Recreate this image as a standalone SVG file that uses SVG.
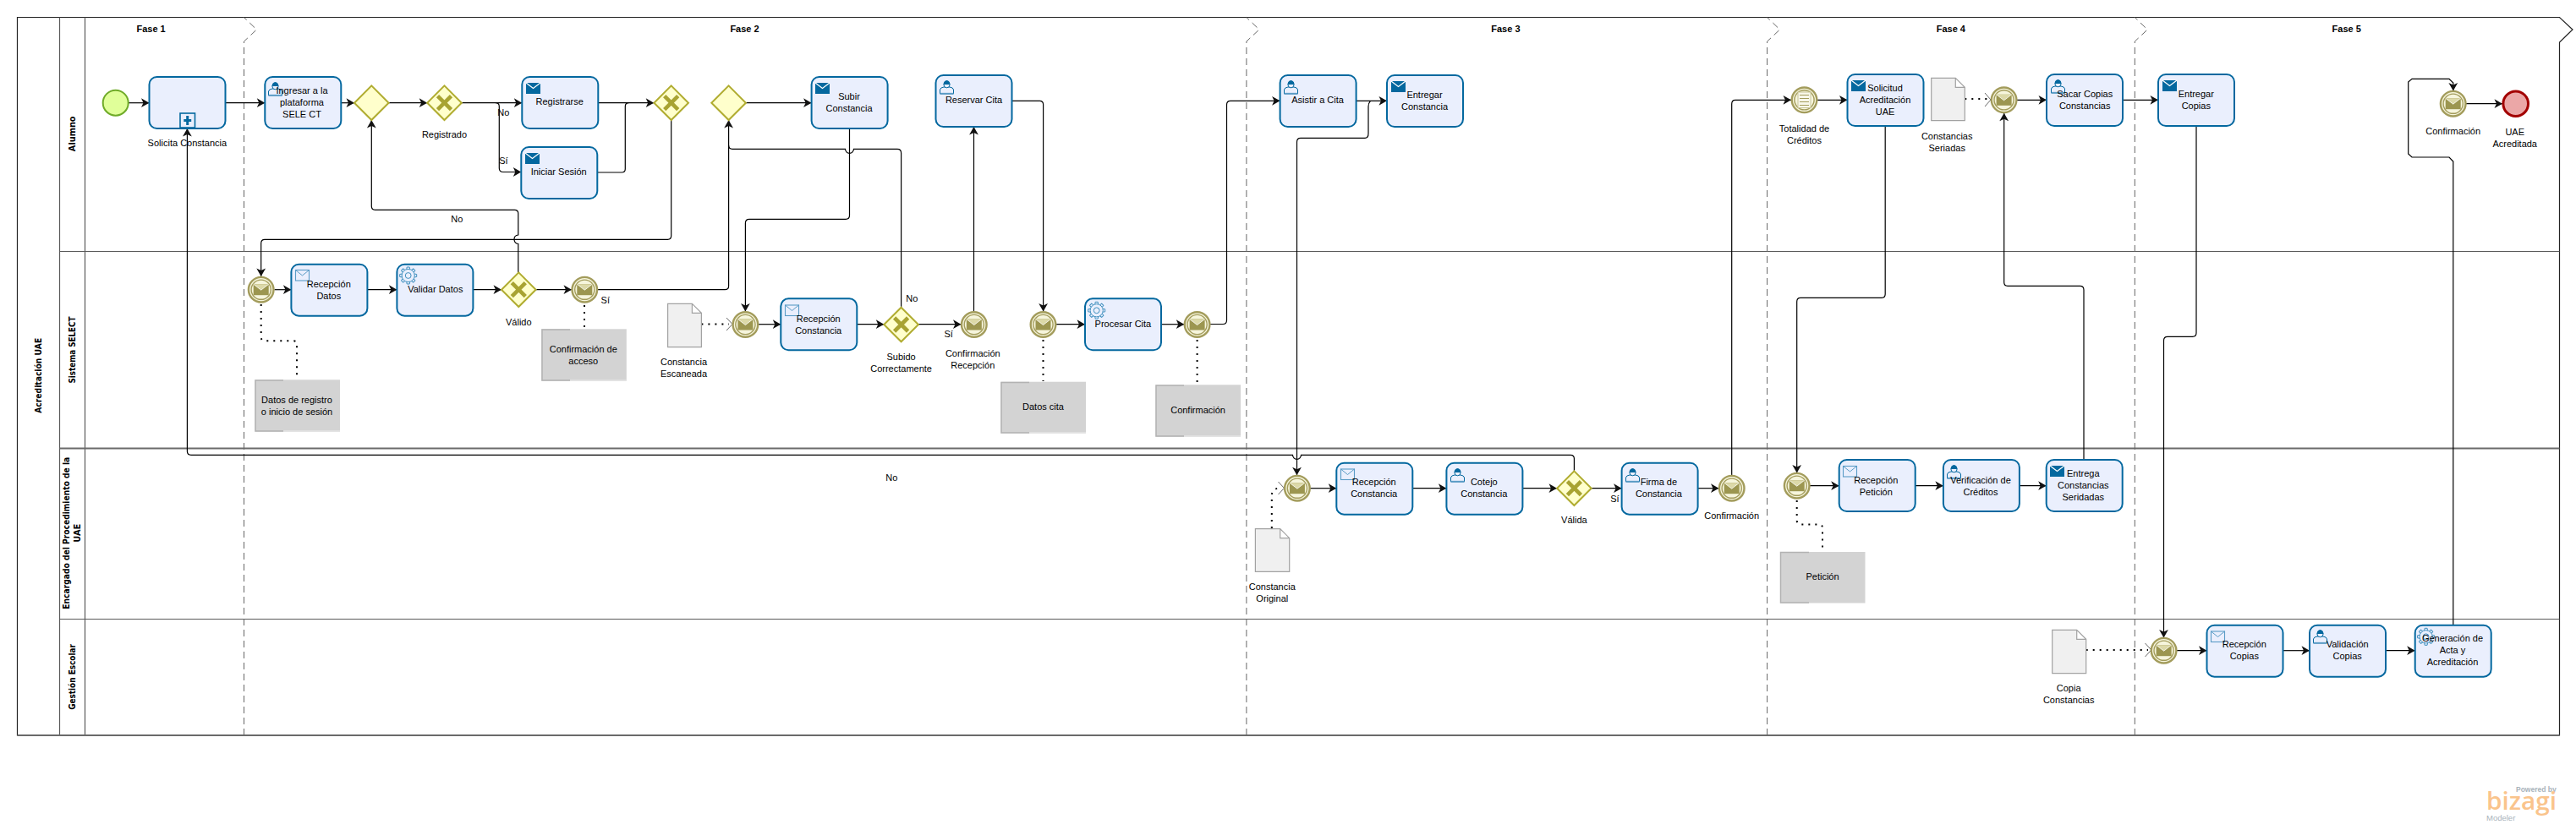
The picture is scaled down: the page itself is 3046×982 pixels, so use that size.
<svg xmlns="http://www.w3.org/2000/svg" xmlns:xlink="http://www.w3.org/1999/xlink" width="3046" height="982" viewBox="0 0 3046 982">
<style>
text{font-family:"Liberation Sans",Arial,sans-serif;font-size:11px;fill:#000;text-anchor:middle}
.ph{font-weight:700}
.ln{font-family:"DejaVu Sans",Verdana,sans-serif;font-size:10px;font-weight:700}
.lane{fill:none;stroke:#5a5a5a;stroke-width:1.2}
.pool{fill:#fff;stroke:#222;stroke-width:1.2}
.sep{fill:none;stroke:#666;stroke-width:1;stroke-dasharray:8 5}
.task{fill:#eaeffd;stroke:#04689f;stroke-width:2}
.flow{fill:none;stroke:#000;stroke-width:1.2}
.arr{marker-end:url(#ah)}
.dot{fill:none;stroke:#000;stroke-width:2;stroke-dasharray:2 6}
.assoc{fill:none;stroke:#444;stroke-width:.8}
.gw{fill:#ffffcc;stroke:#b0ac30;stroke-width:2}
.x{fill:none;stroke:#a8a332;stroke-width:4.6}
.doc{fill:#f0f0f0;stroke:#a2a2a2;stroke-width:1.2}
.data{fill:#d3d3d3}
.ds{fill:none;stroke:#b2b2b2;stroke-width:1.5}
.dl{fill:none;stroke:#e4e4e4;stroke-width:1.5}
</style>
<defs>
<marker id="ah" markerUnits="userSpaceOnUse" markerWidth="12" markerHeight="12" refX="10" refY="6" orient="auto"><path d="M0.5,0.6 L10,6 L0.5,11.4 L3,6 Z" fill="#111"/></marker>
<g id="mailF"><rect width="17" height="13" fill="#04689f"/><path d="M0,0 L8.5,6.5 L17,0" fill="none" stroke="#fff" stroke-width="1.2"/></g>
<g id="mailH"><rect x=".5" y=".5" width="16" height="12.5" fill="#eaeffd" stroke="#5a9cc6" stroke-width="1.1"/><path d="M.5,.5 L8.5,7 L16.5,.5" fill="none" stroke="#5a9cc6" stroke-width="1"/></g>
<g id="user" fill="none" stroke="#04689f" stroke-width="1"><path d="M.5,16 V11 Q1,8.5 5,8 H12 Q16,8.5 16.5,11 V16 Z" fill="#eaeffd"/><ellipse cx="8.5" cy="5" rx="3.6" ry="3.8" fill="#eaeffd"/><path d="M5,4.5 Q5.5,.5 8.5,.5 Q11.5,.5 12,4.5 Z" fill="#04689f"/><path d="M.5,15.6 H16.5" stroke-width="1.5" stroke="#5a9cc6"/></g>
<g id="tooth"><path d="M-1.9,-7.6 L-1.5,-10 H1.5 L1.9,-7.6" fill="none" stroke="#3f8fbe" stroke-width="1"/></g>
<g id="gear"><circle r="7.6" fill="#eaeffd" stroke="#3f8fbe" stroke-width="1"/><circle r="3.4" fill="none" stroke="#3f8fbe" stroke-width="1"/>
<use xlink:href="#tooth"/><use xlink:href="#tooth" transform="rotate(45)"/><use xlink:href="#tooth" transform="rotate(90)"/><use xlink:href="#tooth" transform="rotate(135)"/><use xlink:href="#tooth" transform="rotate(180)"/><use xlink:href="#tooth" transform="rotate(225)"/><use xlink:href="#tooth" transform="rotate(270)"/><use xlink:href="#tooth" transform="rotate(315)"/></g>
<g id="msg"><circle r="14.8" fill="#f6f5dc" stroke="#a39c5c" stroke-width="2.4"/><circle r="11.6" fill="#f6f5dc" stroke="#a39c5c" stroke-width="1.4"/><rect x="-9" y="-6.5" width="18" height="13" fill="#9c9650"/><path d="M-9,-6.5 L0,.5 L9,-6.5 Z" fill="#dcd9a8"/><path d="M-9,-6.5 L0,.5 L9,-6.5" fill="none" stroke="#fff" stroke-width=".8"/></g>
<g id="gate"><path class="gw" d="M0,-20.3 L20.3,0 L0,20.3 L-20.3,0 Z"/></g>
<g id="gatex"><use xlink:href="#gate"/><path class="x" d="M-8,-8 L8,8 M8,-8 L-8,8"/></g>
</defs>
<rect width="3046" height="982" fill="#fff"/>

<g id="pool">
<path class="pool" d="M20.5,20.5 H3026.5 L3042,35 L3026.5,50 V870 H20.5 Z"/>
<path class="lane" d="M70.5,20.5 V870 M100.5,20.5 V870 M70.5,297.5 H3026.5 M70.5,732.5 H3026.5"/>
<path d="M70.5,530.5 H3026.5" fill="none" stroke="#6a6a6a" stroke-width="1.8"/>
<path d="M20.5,870 H3026.5" fill="none" stroke="#6a6a6a" stroke-width="2"/>
<path class="sep" d="M288.5,870 V49 L303.5,35 L288.5,20.5"/>
<path class="sep" d="M1473.9,870 V49 L1488.9,35 L1473.9,20.5"/>
<path class="sep" d="M2089.6,870 V49 L2104.6,35 L2089.6,20.5"/>
<path class="sep" d="M2524.3,870 V49 L2539.3,35 L2524.3,20.5"/>
<text class="ph" x="178.6" y="38">Fase 1</text>
<text class="ph" x="880.5" y="38">Fase 2</text>
<text class="ph" x="1780.4" y="38">Fase 3</text>
<text class="ph" x="2306.8" y="38">Fase 4</text>
<text class="ph" x="2774.7" y="38">Fase 5</text>
<text class="ln" textLength="89" lengthAdjust="spacingAndGlyphs" transform="translate(49,444.3) rotate(-90)">Acreditación UAE</text>
<text class="ln" textLength="41.7" lengthAdjust="spacingAndGlyphs" transform="translate(89,158.3) rotate(-90)">Alumno</text>
<text class="ln" textLength="79" lengthAdjust="spacingAndGlyphs" transform="translate(89,414) rotate(-90)">Sistema SELECT</text>
<text class="ln" textLength="180" lengthAdjust="spacingAndGlyphs" transform="translate(82,630.7) rotate(-90)">Encargado del Procedimiento de la</text>
<text class="ln" textLength="22" lengthAdjust="spacingAndGlyphs" transform="translate(95,630.7) rotate(-90)">UAE</text>
<text class="ln" textLength="77.7" lengthAdjust="spacingAndGlyphs" transform="translate(89,801) rotate(-90)">Gestión Escolar</text>
</g>

<g id="connectors">
<path class="flow arr" d="M152,121.7 H176.5"/>
<path class="flow arr" d="M266.3,121.7 H313.3"/>
<path class="flow arr" d="M403,121.7 H419"/>
<path class="flow arr" d="M459.6,121.7 H505.2"/>
<path class="flow arr" d="M545.8,121.7 H617.3"/>
<path class="flow arr" d="M586,121.7 Q590.3,121.7 590.3,126 V199 Q590.3,203.5 595,203.5 H616.3"/>
<path class="flow arr" d="M707.6,121.7 H773.2"/>
<path class="flow" d="M706.6,204 H735 Q739.3,204 739.3,200 V126 Q739.3,121.7 743.5,121.7"/>
<path class="flow arr" d="M793.7,142 V279 Q793.7,283.3 789.5,283.3 H313 Q308.7,283.3 308.7,288 V327"/>
<path class="flow arr" d="M612.8,322.4 V288.5 Q608,288 608,283 Q608,278.5 612.8,278 V252.5 Q612.8,248.3 608.5,248.3 H443.6 Q439.3,248.3 439.3,244 V142"/>
<path class="flow arr" d="M1861.4,557.4 V542.5 Q1861.4,538.3 1857,538.3 H1538.5 A5,5 0 0 1 1528.5,538.3 H226 Q221.4,538.3 221.4,534 V152"/>
<path class="flow arr" d="M324.5,342.7 H344.4"/>
<path class="flow arr" d="M434.7,342.7 H469.4"/>
<path class="flow arr" d="M559.7,342.7 H593"/>
<path class="flow arr" d="M633.6,342.7 H676"/>
<path class="flow arr" d="M707,342.7 H857.3 Q861.6,342.7 861.6,338.5 V142"/>
<path class="flow" d="M1065.6,363.7 V181 Q1065.6,176.3 1061,176.3 H1009.5 A5,5 0 0 1 999.5,176.3 H866 Q861.6,176.3 861.6,172"/>
<path class="flow arr" d="M882,121.7 H959.6"/>
<path class="flow arr" d="M1004.5,152 V255 Q1004.5,259.3 1000,259.3 H886 Q881.4,259.3 881.4,264 V368.5"/>
<path class="flow arr" d="M897,383.7 H923.3"/>
<path class="flow arr" d="M1013.6,383.7 H1045.3"/>
<path class="flow arr" d="M1085.9,383.7 H1136.5"/>
<path class="flow arr" d="M1151.5,368.5 V150"/>
<path class="flow arr" d="M1196.3,119.3 H1229.3 Q1233.6,119.3 1233.6,123.5 V368.5"/>
<path class="flow arr" d="M1249,383.7 H1283"/>
<path class="flow arr" d="M1373.3,383.7 H1400.3"/>
<path class="flow arr" d="M1431,383.5 H1446 Q1450.5,383.5 1450.5,379 V124 Q1450.5,119.3 1455,119.3 H1513.6"/>
<path class="flow arr" d="M1603.4,119.3 H1640"/>
<path class="flow arr" d="M1620.5,119.3 Q1618,122 1618,126 V158 Q1618,163.3 1614,163.3 H1538 Q1533.5,163.3 1533.5,168 V562.3"/>
<path class="flow arr" d="M1549,577.7 H1580.3"/>
<path class="flow arr" d="M1670.6,577.7 H1710.4"/>
<path class="flow arr" d="M1800.7,577.7 H1841"/>
<path class="flow arr" d="M1881.7,577.7 H1917.6"/>
<path class="flow arr" d="M2007.3,577.7 H2032.5"/>
<path class="flow arr" d="M2047.7,562.5 V123 Q2047.7,118.3 2052,118.3 H2118"/>
<path class="flow arr" d="M2149,118.3 H2184.5"/>
<path class="flow arr" d="M2229.2,149 V348 Q2229.2,352.3 2225,352.3 H2129 Q2124.7,352.3 2124.7,357 V559.5"/>
<path class="flow arr" d="M2140,574.7 H2174.7"/>
<path class="flow arr" d="M2264.5,574.7 H2297.9"/>
<path class="flow arr" d="M2387,574.7 H2419.7"/>
<path class="flow arr" d="M2464,544 V343 Q2464,338.3 2459.5,338.3 H2374 Q2369.7,338.3 2369.7,334 V133.8"/>
<path class="flow arr" d="M2385,118.3 H2420"/>
<path class="flow arr" d="M2510.4,118.3 H2552"/>
<path class="flow arr" d="M2597,149 V394 Q2597,398.3 2592.5,398.3 H2563 Q2558.5,398.3 2558.5,403 V754.5"/>
<path class="flow arr" d="M2574,769.7 H2609.5"/>
<path class="flow arr" d="M2700,769.7 H2731"/>
<path class="flow arr" d="M2821,769.7 H2855.7"/>
<path class="flow arr" d="M2900.8,739.7 V191 L2896,186 H2852 L2847.7,182 V97 L2852,93.3 H2896 L2900.8,98 V107.5"/>
<path class="flow arr" d="M2916,122.7 H2959"/>
<path class="dot" d="M308.7,360 V399 Q309,403.3 313,403.3 H347 Q351,403.3 351,407 V449"/>
<path class="dot" d="M691,361 V389"/>
<path class="dot" d="M829.4,383.5 H862"/><path class="assoc" d="M859,376 L866,383.5 L859,391"/>
<path class="dot" d="M1233.5,402 V451"/>
<path class="dot" d="M1415.6,402 V455"/>
<path class="dot" d="M1503.8,625 V586 Q1504,579 1513,577"/><path class="assoc" d="M1511.5,570 L1518.5,577.5 L1511.5,585"/>
<path class="dot" d="M2124.7,592 V616 Q2125,620.5 2130,620.5 H2151 Q2155,620.5 2155,625 V653"/>
<path class="dot" d="M2323.3,117 H2350"/><path class="assoc" d="M2347,110 L2354,118 L2347,126"/>
<path class="dot" d="M2466.7,769 H2540"/><path class="assoc" d="M2536.5,761 L2543.8,769 L2536.5,777"/>
</g>

<g id="start1"><circle cx="136.7" cy="121.7" r="15" fill="#e0ff99" stroke="#6fab28" stroke-width="2"/></g>
<g id="solicita"><rect class="task" x="176.5" y="91" width="90" height="61" rx="9"/><rect x="213" y="134" width="17.5" height="17" fill="#eaeffd" stroke="#04689f" stroke-width="1.6"/><path d="M221.7,137 V148 M217.3,142.5 H226.2" stroke="#04689f" stroke-width="3" fill="none"/><text x="221.4" y="173">Solicita Constancia</text></g>
<g id="ingresar"><rect class="task" x="313.3" y="91" width="90" height="61" rx="9"/><use xlink:href="#user" x="317" y="97"/><text x="357" y="111">Ingresar a la</text><text x="357" y="125">plataforma</text><text x="357" y="139">SELE CT</text></g>
<g id="gw1"><use xlink:href="#gate" x="439.3" y="121.7"/></g>
<g id="registrado"><use xlink:href="#gatex" x="525.5" y="121.7"/><text x="525.5" y="163">Registrado</text></g>
<g id="registrarse"><rect class="task" x="617.3" y="91" width="90" height="61" rx="9"/><use xlink:href="#mailF" x="622" y="98"/><text x="661.7" y="124">Registrarse</text></g>
<g id="iniciar"><rect class="task" x="616.3" y="174" width="90" height="61" rx="9"/><use xlink:href="#mailF" x="621" y="181"/><text x="660.7" y="207">Iniciar Sesión</text></g>
<g id="gw2"><use xlink:href="#gatex" x="793.7" y="121.7"/></g>
<g id="gw3"><use xlink:href="#gate" x="861.6" y="121.7"/></g>
<g id="subir"><rect class="task" x="959.6" y="91" width="90" height="61" rx="9"/><use xlink:href="#mailF" x="964" y="98"/><text x="1004" y="118">Subir</text><text x="1004" y="132">Constancia</text></g>
<g id="reservar"><rect class="task" x="1106.5" y="89" width="90" height="61" rx="9"/><use xlink:href="#user" x="1111" y="95"/><text x="1151.5" y="122">Reservar Cita</text></g>
<g id="asistir"><rect class="task" x="1513.6" y="89" width="90" height="61" rx="9"/><use xlink:href="#user" x="1518" y="95"/><text x="1558" y="122">Asistir a Cita</text></g>
<g id="entregarc"><rect class="task" x="1640" y="89" width="90" height="61" rx="9"/><use xlink:href="#mailF" x="1645" y="96"/><text x="1684.5" y="116">Entregar</text><text x="1684.5" y="130">Constancia</text></g>
<g id="totalidad"><circle cx="2133.5" cy="118.3" r="14.8" fill="#f6f5dc" stroke="#a39c5c" stroke-width="2.4"/><circle cx="2133.5" cy="118.3" r="11.6" fill="#f6f5dc" stroke="#a39c5c" stroke-width="1.4"/><rect x="2126" y="109" width="15" height="18.5" fill="#f8f7ea" stroke="#c9c69a" stroke-width="1"/><path d="M2128,112.5 H2139 M2128,116.5 H2139 M2128,120.5 H2139 M2128,124.5 H2139" stroke="#a39c5c" stroke-width="1" fill="none"/><text x="2133.5" y="156">Totalidad de</text><text x="2133.5" y="170">Créditos</text></g>
<g id="solicitud"><rect class="task" x="2184.5" y="88" width="90" height="61" rx="9"/><use xlink:href="#mailF" x="2189" y="95"/><text x="2229" y="108">Solicitud</text><text x="2229" y="122">Acreditación</text><text x="2229" y="136">UAE</text></g>
<g id="docseriadas"><path class="doc" d="M2283.7,92.3 H2312.3 L2323.3,103.3 V142.7 H2283.7 Z M2312.3,92.3 V103.3 H2323.3"/><text x="2302.2" y="165">Constancias</text><text x="2302.2" y="179">Seriadas</text></g>
<g id="ev13"><use xlink:href="#msg" x="2369.6" y="118.3"/></g>
<g id="sacar"><rect class="task" x="2420" y="88" width="90" height="61" rx="9"/><use xlink:href="#user" x="2425" y="94"/><text x="2465.2" y="115">Sacar Copias</text><text x="2465.2" y="129">Constancias</text></g>
<g id="entregarp"><rect class="task" x="2552" y="88" width="90" height="61" rx="9"/><use xlink:href="#mailF" x="2557" y="95"/><text x="2596.8" y="115">Entregar</text><text x="2596.8" y="129">Copias</text></g>
<g id="confirmfin"><use xlink:href="#msg" x="2900.7" y="122.7"/><text x="2900.7" y="159">Confirmación</text></g>
<g id="end1"><circle cx="2974.7" cy="122.7" r="14.8" fill="#eba7a7" stroke="#a30000" stroke-width="3"/><text x="2973.7" y="160">UAE</text><text x="2973.7" y="174">Acreditada</text></g>

<g id="ev1"><use xlink:href="#msg" x="308.7" y="342.7"/></g>
<g id="recdatos"><rect class="task" x="344.4" y="312.7" width="90" height="61" rx="9"/><use xlink:href="#mailH" x="349" y="319"/><text x="388.8" y="340">Recepción</text><text x="388.8" y="354">Datos</text></g>
<g id="validar"><rect class="task" x="469.4" y="312.7" width="90" height="61" rx="9"/><use xlink:href="#gear" x="482.7" y="326"/><text x="514.8" y="346">Validar Datos</text></g>
<g id="valido"><use xlink:href="#gatex" x="613.3" y="342.7"/><text x="613.3" y="385">Válido</text></g>
<g id="ev2"><use xlink:href="#msg" x="691.3" y="342.7"/></g>
<g id="dat1"><rect class="data" x="301.5" y="449.3" width="100.5" height="61.4"/><path class="ds" d="M335,450 H302 V510 H335"/><path class="dl" d="M335,510 H402"/><text x="351" y="477">Datos de registro</text><text x="351" y="491">o inicio de sesión</text></g>
<g id="dat2"><rect class="data" x="640.3" y="389.3" width="100.5" height="61.4"/><path class="ds" d="M674,390 H641 V450 H674"/><path class="dl" d="M674,450 H741"/><text x="689.8" y="417">Confirmación de</text><text x="689.8" y="431">acceso</text></g>
<g id="docesc"><path class="doc" d="M789.6,359.3 H818.4 L829.4,370.3 V410.7 H789.6 Z M818.4,359.3 V370.3 H829.4"/><text x="808.5" y="432">Constancia</text><text x="808.5" y="446">Escaneada</text></g>
<g id="ev3"><use xlink:href="#msg" x="881.4" y="384"/></g>
<g id="recconst"><rect class="task" x="923.3" y="353.3" width="90" height="61" rx="9"/><use xlink:href="#mailH" x="928" y="360.5"/><text x="967.7" y="381">Recepción</text><text x="967.7" y="395">Constancia</text></g>
<g id="subido"><use xlink:href="#gatex" x="1065.6" y="384"/><text x="1065.6" y="426">Subido</text><text x="1065.6" y="440">Correctamente</text></g>
<g id="ev4"><use xlink:href="#msg" x="1151.8" y="384"/><text x="1150.3" y="422">Confirmación</text><text x="1150.3" y="436">Recepción</text></g>
<g id="ev5"><use xlink:href="#msg" x="1233.5" y="384"/></g>
<g id="dat3"><rect class="data" x="1183.5" y="451.7" width="100.5" height="61"/><path class="ds" d="M1217,452.5 H1184 V512 H1217"/><path class="dl" d="M1217,512 H1284"/><text x="1233.5" y="485">Datos cita</text></g>
<g id="procesar"><rect class="task" x="1283" y="353.3" width="90" height="61" rx="9"/><use xlink:href="#gear" x="1296.7" y="367.3"/><text x="1327.9" y="387">Procesar Cita</text></g>
<g id="ev6"><use xlink:href="#msg" x="1415.6" y="384"/></g>
<g id="dat4"><rect class="data" x="1366.6" y="455.3" width="100.5" height="61.4"/><path class="ds" d="M1400,456 H1367 V516 H1400"/><path class="dl" d="M1400,516 H1467"/><text x="1416.6" y="489">Confirmación</text></g>

<g id="ev7"><use xlink:href="#msg" x="1533.9" y="577.7"/></g>
<g id="docorig"><path class="doc" d="M1484.4,625.7 H1513.7 L1524.7,636.7 V676.3 H1484.4 Z M1513.7,625.7 V636.7 H1524.7"/><text x="1504.3" y="698">Constancia</text><text x="1504.3" y="712">Original</text></g>
<g id="recconst2"><rect class="task" x="1580.3" y="547.7" width="90" height="61" rx="9"/><use xlink:href="#mailH" x="1585" y="554.5"/><text x="1624.7" y="574">Recepción</text><text x="1624.7" y="588">Constancia</text></g>
<g id="cotejo"><rect class="task" x="1710.4" y="547.7" width="90" height="61" rx="9"/><use xlink:href="#user" x="1715" y="554"/><text x="1754.8" y="574">Cotejo</text><text x="1754.8" y="588">Constancia</text></g>
<g id="valida"><use xlink:href="#gatex" x="1861.4" y="577.7"/><text x="1861.4" y="619">Válida</text></g>
<g id="firma"><rect class="task" x="1917.6" y="547.7" width="90" height="61" rx="9"/><use xlink:href="#user" x="1922" y="554"/><text x="1961.4" y="574">Firma de</text><text x="1961.4" y="588">Constancia</text></g>
<g id="ev8"><use xlink:href="#msg" x="2047.7" y="577.7"/><text x="2047.7" y="614">Confirmación</text></g>
<g id="ev9"><use xlink:href="#msg" x="2124.7" y="574.7"/></g>
<g id="dat5"><rect class="data" x="2105" y="653" width="100.5" height="60.5"/><path class="ds" d="M2139,653.5 H2105.5 V713 H2139"/><text x="2155" y="686">Petición</text></g>
<g id="recpet"><rect class="task" x="2174.7" y="544" width="90" height="61" rx="9"/><use xlink:href="#mailH" x="2179" y="551"/><text x="2218.3" y="571.5">Recepción</text><text x="2218.3" y="585.5">Petición</text></g>
<g id="verif"><rect class="task" x="2297.9" y="544" width="90" height="61" rx="9"/><use xlink:href="#user" x="2302" y="550"/><text x="2342" y="571.5">Verificación de</text><text x="2342" y="585.5">Créditos</text></g>
<g id="entrega"><rect class="task" x="2419.7" y="544" width="90" height="61" rx="9"/><use xlink:href="#mailF" x="2424" y="551"/><text x="2463.3" y="564">Entrega</text><text x="2463.3" y="578">Constancias</text><text x="2463.3" y="592">Seridadas</text></g>

<g id="doccopia"><path class="doc" d="M2426.7,745.3 H2455.7 L2466.7,756.3 V796.7 H2426.7 Z M2455.7,745.3 V756.3 H2466.7"/><text x="2446.2" y="818">Copia</text><text x="2446.2" y="832">Constancias</text></g>
<g id="ev10"><use xlink:href="#msg" x="2558.6" y="769.7"/></g>
<g id="reccop"><rect class="task" x="2609.5" y="739.7" width="90" height="61" rx="9"/><use xlink:href="#mailH" x="2614" y="746.5"/><text x="2653.8" y="766">Recepción</text><text x="2653.8" y="780">Copias</text></g>
<g id="valcop"><rect class="task" x="2731" y="739.7" width="90" height="61" rx="9"/><use xlink:href="#user" x="2735" y="745"/><text x="2775.7" y="766">Validación</text><text x="2775.7" y="780">Copias</text></g>
<g id="genera"><rect class="task" x="2855.7" y="739.7" width="90" height="61" rx="9"/><use xlink:href="#gear" x="2868.6" y="753.3"/><text x="2900" y="759">Generación de</text><text x="2900" y="773">Acta y</text><text x="2900" y="787">Acreditación</text></g>

<g id="labels">
<text x="595.4" y="137">No</text><text x="595.4" y="194">Sí</text><text x="540.3" y="263">No</text>
<text x="715.8" y="359">Sí</text><text x="1078.4" y="357">No</text><text x="1121.7" y="399">Sí</text>
<text x="1054.4" y="569">No</text><text x="1909.4" y="594">Sí</text>
</g>
<g id="logo">
<text x="3022.7" y="937" style="text-anchor:end;font-size:8.5px;font-weight:700;fill:#a9b3bb">Powered by</text>
<text x="2940" y="958" textLength="83" lengthAdjust="spacingAndGlyphs" style="text-anchor:start;font-family:'Open Sans',sans-serif;font-weight:600;font-size:28px;fill:#fac48c">bizagi</text>
<text x="2940" y="971" style="text-anchor:start;font-size:9.5px;fill:#a9b3bb">Modeler</text>
</g>
</svg>
